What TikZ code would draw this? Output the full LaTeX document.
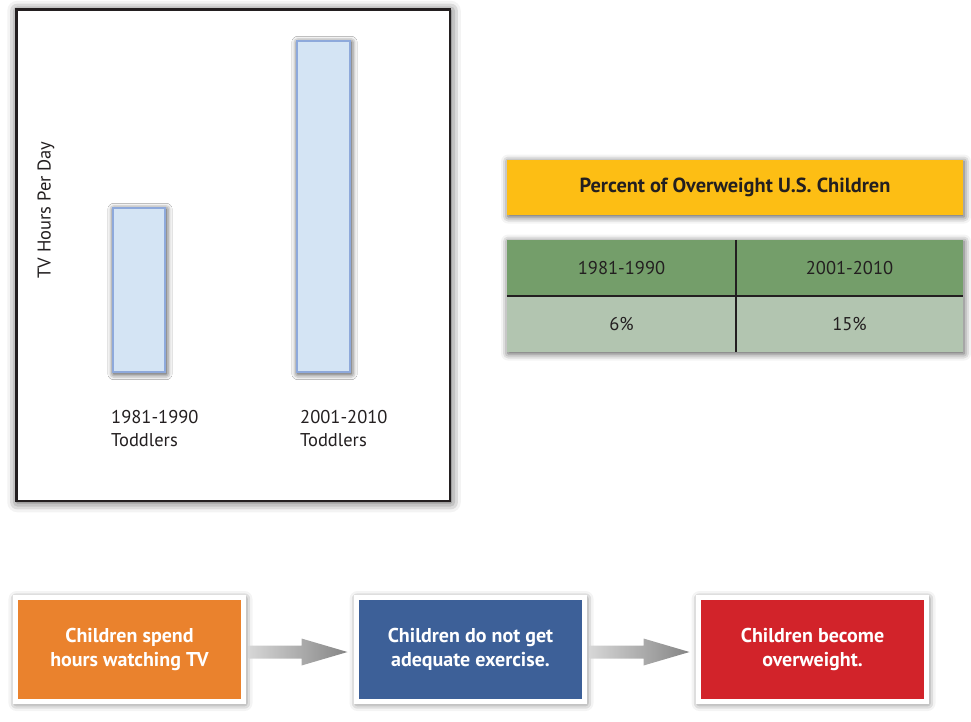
\documentclass[tikz,border=0pt]{standalone}
\usepackage{fontspec}
\setmainfont{PT Sans}
\usetikzlibrary{shadows.blur,calc}

\definecolor{framegray}{HTML}{231F20}
\definecolor{inkgray}{HTML}{231F20}
\definecolor{barfill}{HTML}{D4E4F4}
\definecolor{barline}{HTML}{8EA9DB}
\definecolor{titleyellow}{HTML}{FDBE14}
\definecolor{rowgreen}{HTML}{749E6A}
\definecolor{rowpale}{HTML}{B2C5B0}
\definecolor{boxorange}{HTML}{EA822D}
\definecolor{boxblue}{HTML}{3D6098}
\definecolor{boxred}{HTML}{D2232A}

\tikzset{
  softshadow/.style 2 args={blur shadow={shadow xshift=1pt, shadow yshift=-1.5pt,
      shadow blur radius=#1, shadow opacity=#2}},
  chartframe/.style={draw=framegray, line width=2.5pt, fill=white, softshadow={10pt}{75}},
  bar/.style={draw=barline, line width=1.6pt, fill=barfill, softshadow={6pt}{85}},
  axislabel/.style={inner sep=0pt, font=\fontsize{18.5}{23}\selectfont, text=inkgray},
  titlebox/.style={fill=titleyellow, minimum width=456pt, minimum height=55pt,
      inner sep=0pt, font=\bfseries\fontsize{20.4}{24}\selectfont, text=inkgray,
      softshadow={7pt}{70}},
  cell/.style={minimum height=56pt, inner sep=0pt,
      font=\fontsize{18.5}{23}\selectfont, text=inkgray},
  rule/.style={draw=inkgray, line width=2pt},
  stepbox/.style={draw=white, line width=5pt, minimum width=228pt, minimum height=104pt,
      inner sep=0pt, align=center, text=white,
      font=\bfseries\fontsize{20}{24}\selectfont, softshadow={8pt}{70}},
  arrowshade/.style={left color=black!16, right color=black!48}
}

\begin{document}
\begin{tikzpicture}[x=1pt, y=-1pt]
\useasboundingbox (0,0) rectangle (971,721);

% ---- bar chart of daily TV hours ----
\draw[chartframe] (16.25,9.25) rectangle (449.75,500.75);
\draw[bar] (112.8,207.8) rectangle (165.2,372.2);
\draw[bar] (296.8,40.8) rectangle (350.2,372.2);

\node[axislabel, rotate=90] (ylab) at (46,210) {TV Hours Per Day};
\node[axislabel, anchor=base west] (a1) at (111,423) {1981-1990};
\node[axislabel, anchor=base west] (a2) at (111,446) {Toddlers};
\node[axislabel, anchor=base west] (b1) at (300,423) {2001-2010};
\node[axislabel, anchor=base west] (b2) at (300,446) {Toddlers};

% ---- overweight percentage table ----
\node[titlebox] (title) at (735,187.5) {Percent of Overweight U.S. Children};

\fill[white, softshadow={7pt}{70}] (507,240) rectangle (963,352);
\node[cell, fill=rowgreen, minimum width=229pt] (h1) at (621.5,268) {1981-1990};
\node[cell, fill=rowgreen, minimum width=227pt] (h2) at (849.5,268) {2001-2010};
\node[cell, fill=rowpale, minimum width=229pt] (v1) at (621.5,324) {6\%};
\node[cell, fill=rowpale, minimum width=227pt] (v2) at (849.5,324) {15\%};
\draw[rule] (h1.south west) -- (h2.south east);
\draw[rule] (h1.north east) -- (v1.south east);

% ---- cause and effect chain ----
\node[stepbox, fill=boxorange] (o) at (129.5,649.5) {Children spend\\hours watching TV};
\node[stepbox, fill=boxblue] (b) at (470.5,649.5) {Children do not get\\adequate exercise.};
\node[stepbox, fill=boxred] (r) at (812.5,649.5) {Children become\\overweight.};

% block arrows between the steps, shaft centred slightly below the box centres
\foreach \s/\t in {o/b, b/r}{
  \shade[arrowshade] let \p1=(\s.east), \p2=(\t.west) in
    (\x1+2.5pt,\y1+4pt) -- (\x2-52.5pt,\y1+4pt) -- (\x2-52.5pt,\y1+11pt)
    -- (\x2-6.5pt,\y1-2.5pt) -- (\x2-52.5pt,\y1-16pt) -- (\x2-52.5pt,\y1-9pt)
    -- (\x1+2.5pt,\y1-9pt) -- cycle;
}
\end{tikzpicture}
\end{document}
